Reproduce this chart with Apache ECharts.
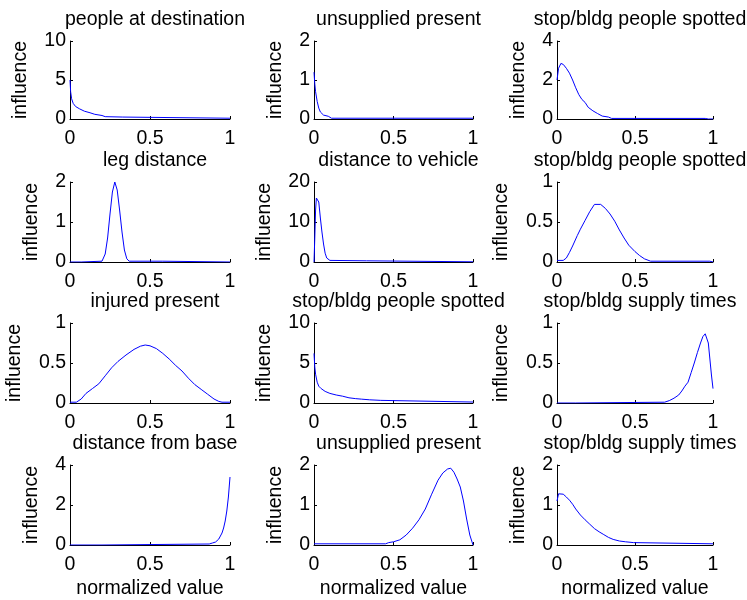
<!DOCTYPE html>
<html>
<head>
<meta charset="utf-8">
<script src="https://cdn.jsdelivr.net/npm/echarts@6/dist/echarts.min.js"></script>
<style>
html,body{margin:0;padding:0;background:#fff;}
#chart{width:747px;height:600px;}
</style>
</head>
<body>
<div id="chart"></div>
<script>
// ---- data ----
const titles = [
  "people at destination", "unsupplied present", "stop/bldg people spotted",
  "leg distance", "distance to vehicle", "stop/bldg people spotted",
  "injured present", "stop/bldg people spotted", "stop/bldg supply times",
  "distance from base", "unsupplied present", "stop/bldg supply times"
];
const yMax = [10, 2, 4, 2, 20, 1, 1, 10, 1, 4, 2, 2];
const xTicks = [0, 0.5, 1];
const xName = "normalized value";
const yName = "influence";

const peopleAtDestination = [[0,5.0],[0.004,3.5],[0.01,2.6],[0.02,2.0],[0.035,1.6],[0.06,1.3],[0.09,1.0],[0.125,0.8],[0.155,0.6],[0.2,0.45],[0.22,0.3],[0.33,0.25],[0.34,0.1],[1,0.1]];
const unsuppliedPresent1 = [[0,1.2],[0.005,0.9],[0.01,0.7],[0.02,0.45],[0.03,0.28],[0.04,0.18],[0.06,0.1],[0.09,0.07],[0.1,0.06],[0.11,0.02],[1,0.02]];
const peopleSpotted1 = [[0,2.0],[0.01,2.6],[0.025,2.85],[0.04,2.8],[0.06,2.6],[0.08,2.35],[0.1,2.0],[0.12,1.6],[0.14,1.25],[0.16,1.0],[0.18,0.85],[0.2,0.6],[0.23,0.42],[0.26,0.28],[0.29,0.15],[0.33,0.1],[0.35,0.03],[0.95,0.03],[0.97,0.0],[1,0.0]];
const legDistance = [[0,0],[0.07,0],[0.075,0.02],[0.2,0.02],[0.21,0.05],[0.22,0.2],[0.235,0.6],[0.25,1.2],[0.265,1.75],[0.28,2.0],[0.295,1.8],[0.31,1.3],[0.325,0.75],[0.34,0.3],[0.355,0.08],[0.37,0.02],[0.58,0.02],[0.59,0],[1,0]];
const distanceToVehicle = [[0,0],[0.005,6],[0.01,13],[0.015,16],[0.025,16.2],[0.03,15],[0.04,11],[0.05,7.5],[0.06,4.5],[0.07,2.2],[0.08,1.0],[0.09,0.5],[0.1,0.4],[0.33,0.3],[0.34,0.05],[1,0.05]];
const peopleSpotted2 = [[0,0.02],[0.04,0.02],[0.06,0.05],[0.08,0.12],[0.1,0.2],[0.13,0.33],[0.15,0.41],[0.18,0.52],[0.21,0.63],[0.24,0.72],[0.28,0.72],[0.31,0.67],[0.34,0.6],[0.37,0.51],[0.4,0.4],[0.43,0.3],[0.46,0.21],[0.5,0.13],[0.53,0.08],[0.56,0.04],[0.6,0.01],[0.98,0.01],[1,0]];
const injuredPresent = [[0,0.01],[0.04,0.01],[0.07,0.05],[0.1,0.12],[0.14,0.18],[0.18,0.24],[0.22,0.34],[0.26,0.44],[0.3,0.52],[0.35,0.6],[0.4,0.67],[0.44,0.71],[0.47,0.725],[0.5,0.715],[0.54,0.68],[0.58,0.62],[0.62,0.55],[0.66,0.47],[0.7,0.4],[0.74,0.31],[0.78,0.23],[0.82,0.17],[0.86,0.11],[0.9,0.05],[0.93,0.02],[0.95,0.01],[1,0.01]];
const peopleSpotted3 = [[0,6.2],[0.005,4.5],[0.01,3.6],[0.02,2.6],[0.03,2.1],[0.045,1.8],[0.07,1.45],[0.1,1.2],[0.14,1.0],[0.18,0.85],[0.22,0.65],[0.26,0.55],[0.3,0.48],[0.35,0.4],[0.42,0.33],[0.43,0.15],[1,0.12]];
const supplyTimes1 = [[0,0],[0.12,0],[0.13,0.01],[0.69,0.01],[0.72,0.03],[0.75,0.06],[0.78,0.1],[0.8,0.15],[0.82,0.21],[0.84,0.26],[0.86,0.38],[0.88,0.5],[0.9,0.63],[0.92,0.75],[0.935,0.83],[0.95,0.865],[0.96,0.85],[0.97,0.75],[0.98,0.55],[0.99,0.35],[1,0.18]];
const distanceFromBase = [[0,0],[0.2,0],[0.21,0.05],[0.87,0.05],[0.89,0.1],[0.91,0.15],[0.93,0.3],[0.95,0.6],[0.96,0.85],[0.97,1.2],[0.98,1.7],[0.99,2.4],[1,3.4]];
const unsuppliedPresent2 = [[0,0.03],[0.45,0.03],[0.47,0.06],[0.5,0.08],[0.54,0.13],[0.58,0.25],[0.62,0.42],[0.66,0.63],[0.7,0.9],[0.74,1.27],[0.78,1.62],[0.81,1.8],[0.84,1.9],[0.86,1.92],[0.88,1.82],[0.9,1.65],[0.92,1.45],[0.94,1.1],[0.96,0.65],[0.98,0.25],[1,0]];
const supplyTimes2 = [[0,1.1],[0.01,1.28],[0.02,1.32],[0.04,1.27],[0.06,1.2],[0.08,1.12],[0.1,1.02],[0.12,0.9],[0.15,0.75],[0.18,0.63],[0.21,0.52],[0.24,0.41],[0.27,0.33],[0.3,0.26],[0.33,0.19],[0.36,0.14],[0.4,0.1],[0.44,0.08],[0.49,0.06],[0.5,0.03],[1,0.03]];

const seriesData = [
  peopleAtDestination, unsuppliedPresent1, peopleSpotted1,
  legDistance, distanceToVehicle, peopleSpotted2,
  injuredPresent, peopleSpotted3, supplyTimes1,
  distanceFromBase, unsuppliedPresent2, supplyTimes2
];

// ---- layout ----
const colLeft = [70, 314, 557];
const colWidth = [160, 159, 156];
const rowTop = [41, 182, 323, 465];
const rowHeight = [78, 80, 80, 80];
const FONT = "Liberation Sans";
const FS = 19.5;

function yLabelWidth(m) {
  const half = m / 2;
  const labs = [String(m), String(half), "0"];
  return Math.max(...labs.map(s => s.length));
}

const grid = [], xAxis = [], yAxis = [], series = [], title = [];
for (let i = 0; i < 12; i++) {
  const r = Math.floor(i / 3), c = i % 3;
  const left = colLeft[c], top = rowTop[r], w = colWidth[c], h = rowHeight[r];
  grid.push({left: left, top: top, width: w, height: h, containLabel: false});
  title.push({
    text: titles[i], left: left + w / 2, top: top - 36, textAlign: 'center',
    textStyle: {fontFamily: FONT, fontSize: FS, fontWeight: 'normal', color: '#000'}
  });
  const lw = yLabelWidth(yMax[i]);
  const gap = lw === 1 ? 28 : (lw === 2 ? 39 : 45);
  xAxis.push({
    type: 'value', gridIndex: i, min: 0, max: 1, interval: 0.5,
    axisLine: {show: true, onZero: false, lineStyle: {color: '#000', width: 1}},
    axisTick: {show: true, inside: true, length: 3, lineStyle: {color: '#000'}},
    axisLabel: {show: true, margin: 10, fontFamily: FONT, fontSize: FS, color: '#000'},
    splitLine: {show: false},
    name: r === 3 ? xName : '', nameLocation: 'middle', nameGap: 34,
    nameTextStyle: {fontFamily: FONT, fontSize: FS, color: '#000'}
  });
  yAxis.push({
    type: 'value', gridIndex: i, min: 0, max: yMax[i], interval: yMax[i] / 2,
    axisLine: {show: true, onZero: false, lineStyle: {color: '#000', width: 1}},
    axisTick: {show: true, inside: true, length: 3, lineStyle: {color: '#000'}},
    axisLabel: {show: true, margin: 4, fontFamily: FONT, fontSize: FS, color: '#000'},
    splitLine: {show: false},
    name: yName, nameLocation: 'middle', nameGap: gap, nameRotate: 90,
    nameTextStyle: {fontFamily: FONT, fontSize: FS, color: '#000'}
  });
  series.push({
    type: 'line', xAxisIndex: i, yAxisIndex: i, data: seriesData[i],
    showSymbol: false, symbol: 'none', smooth: false, clip: true,
    lineStyle: {color: '#0000ff', width: 1}
  });
}

const chart = echarts.init(document.getElementById('chart'), null, {renderer: 'canvas'});
chart.setOption({
  animation: false,
  backgroundColor: '#fff',
  title: title, grid: grid, xAxis: xAxis, yAxis: yAxis, series: series
});
</script>
</body>
</html>
